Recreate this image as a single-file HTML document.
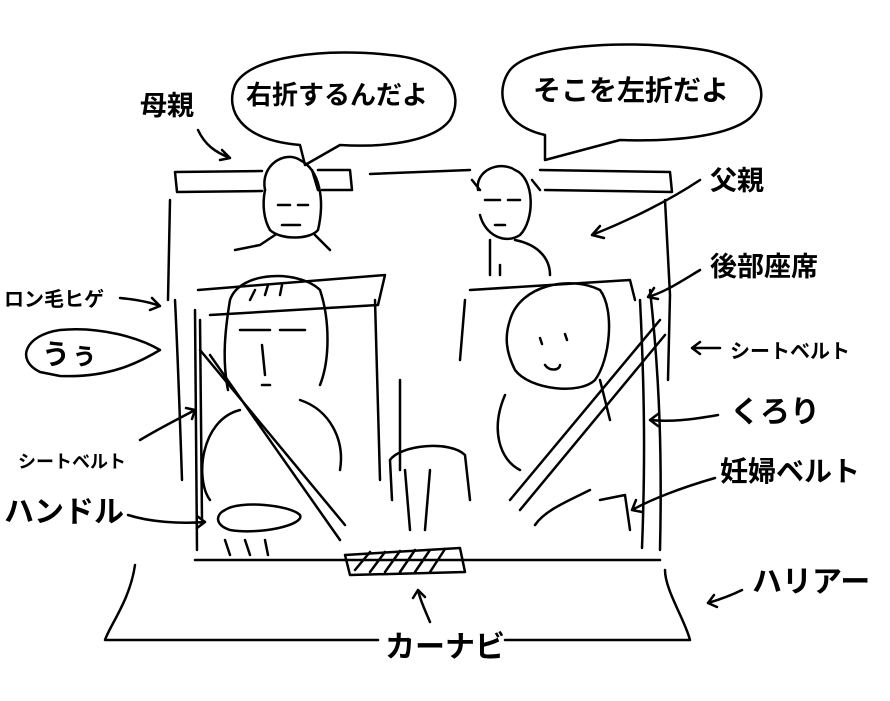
<!DOCTYPE html>
<html><head><meta charset="utf-8"><style>
html,body{margin:0;padding:0;background:#fff;}
svg{display:block}
text{font-family:"Liberation Sans","Noto Sans CJK JP",sans-serif;font-weight:bold;fill:#000}
</style></head><body>
<svg width="890" height="701" viewBox="0 0 890 701" xmlns="http://www.w3.org/2000/svg">
<g fill="none" stroke="#000" stroke-width="2.5" stroke-linecap="round" stroke-linejoin="round">
<path d="M300,145 C240,140 225,110 235,85 C250,55 330,48 390,55 C450,60 465,95 450,120 C435,140 390,148 340,145 L305,165 Z"/>
<path d="M545,135 C500,125 495,90 510,70 C530,45 620,40 690,48 C760,55 775,95 750,118 C730,135 680,142 620,140 L545,160 Z"/>
<path d="M40,372 C15,360 25,335 60,330 C100,326 140,338 160,350 C140,362 110,378 60,376 Z"/>
<path d="M198,130 C205,145 215,152 230,158 M222,150 L230,158 L220,160"/>
<path d="M700,180 C670,200 630,220 592,235 M600,226 L592,235 L604,238"/>
<path d="M700,270 C680,282 665,292 648,297 M654,288 L648,297 L658,299"/>
<path d="M120,298 C140,300 152,303 160,306 M152,298 L160,306 L150,310"/>
<path d="M720,348 L692,348 M700,342 L692,348 L700,354"/>
<path d="M718,415 C690,420 670,422 650,420 M658,414 L650,420 L658,426"/>
<path d="M140,440 C160,428 180,418 195,410 M186,408 L195,410 L192,419"/>
<path d="M715,478 C680,488 650,500 632,510 M636,500 L632,510 L642,512"/>
<path d="M128,515 C150,522 180,524 205,522 M197,516 L205,522 L197,528"/>
<path d="M742,590 C730,596 718,600 708,603 M714,595 L708,603 L717,607"/>
<path d="M430,622 C425,610 420,600 418,590 M413,598 L418,590 L425,597"/>
<path d="M262,191 L177,192 L175,172 L262,171"/>
<path d="M318,170 L350,170 L352,190 L322,190"/>
<path d="M370,174 L470,170 M540,170 L670,172 L672,192 L545,190"/>
<path d="M170,200 L168,300 M665,200 L670,295 L668,380"/>
<path d="M175,300 C178,360 180,420 182,480 M650,290 C660,380 662,460 660,550"/>
<path d="M195,310 L197,550 M640,300 C645,400 645,470 642,548"/>
<path d="M265,190 C260,165 285,150 300,160 C320,170 325,200 318,230 C310,240 280,240 270,230"/>
<path d="M265,190 C262,205 264,220 270,230 M312,170 L318,190"/>
<path d="M275,235 L260,245 L235,250 M315,235 L330,250"/>
<path d="M278,205 L290,205 M298,205 L308,205 M282,225 L300,225"/>
<path d="M478,190 C475,170 500,160 515,170 C535,178 535,220 520,235 C505,245 485,235 480,215"/>
<path d="M472,180 L480,190 M532,180 L540,190 M485,200 L500,200 M508,200 L520,200 M495,225 L505,225"/>
<path d="M515,240 C540,245 550,260 550,275 M490,240 L490,275 M500,265 L500,275"/>
<path d="M198,290 L385,275 L378,305 L210,315"/>
<path d="M375,300 L380,480 M200,320 L202,520"/>
<path d="M470,290 L630,280 L635,300 M465,300 L460,360 M400,380 L400,470"/>
<path d="M230,300 C240,270 300,270 320,290 C330,320 330,360 320,385 M230,300 C225,330 222,360 228,390"/>
<path d="M240,330 L270,330 M280,330 L305,330 M262,345 L265,375 M262,385 L270,385"/>
<path d="M250,300 L255,290 M265,295 L268,285 M280,295 L282,285"/>
<path d="M240,410 C200,420 195,480 210,500 M300,400 C330,410 345,440 340,470"/>
<path d="M200,350 L345,525 M210,355 L340,540"/>
<path d="M225,510 C240,500 290,505 300,515 C305,525 260,535 230,530 C215,525 215,515 225,510"/>
<path d="M225,540 L230,555 M245,540 L250,555 M265,540 L268,555"/>
<path d="M510,320 C520,285 570,275 600,290 C615,310 610,360 595,380 C580,395 530,390 515,370 C505,350 505,335 510,320"/>
<path d="M540,338 L542,344 M565,334 L567,340 M545,365 C550,372 560,370 560,365"/>
<path d="M505,395 C490,430 500,460 520,470 M600,380 L610,420"/>
<path d="M660,320 L510,500 M665,335 L520,510"/>
<path d="M590,490 C570,500 545,510 535,525 M600,500 L625,495 L630,530"/>
<path d="M390,460 C400,445 450,440 465,455 L470,500 M390,460 L392,500"/>
<path d="M405,470 L410,530 M430,470 L425,530"/>
<path d="M345,555 L460,548 L465,572 L350,575 Z"/>
<path d="M355,570 L370,552 M370,572 L385,552 M385,572 L400,551 M400,572 L415,550 M415,572 L430,550 M430,572 L445,549"/>
<path d="M195,560 L660,560 M135,565 C130,600 110,625 105,640 L378,640 M505,640 L690,640 C685,620 665,590 665,570"/>
</g>
<text x="140" y="115" font-size="27">母親</text>
<text x="246" y="104" font-size="26">右折するんだよ</text>
<text x="533" y="100" font-size="28">そこを左折だよ</text>
<text x="710" y="190" font-size="27">父親</text>
<text x="710" y="276" font-size="27">後部座席</text>
<text x="4" y="306" font-size="20">ロン毛ヒゲ</text>
<text x="42" y="364" font-size="28">うぅ</text>
<text x="730" y="358" font-size="20">シートベルト</text>
<text x="730" y="422" font-size="30">くろり</text>
<text x="18" y="468" font-size="18">シートベルト</text>
<text x="720" y="481" font-size="28">妊婦ベルト</text>
<text x="4" y="522" font-size="30">ハンドル</text>
<text x="752" y="592" font-size="30">ハリアー</text>
<text x="385" y="657" font-size="30">カーナビ</text>
</svg>
</body></html>
